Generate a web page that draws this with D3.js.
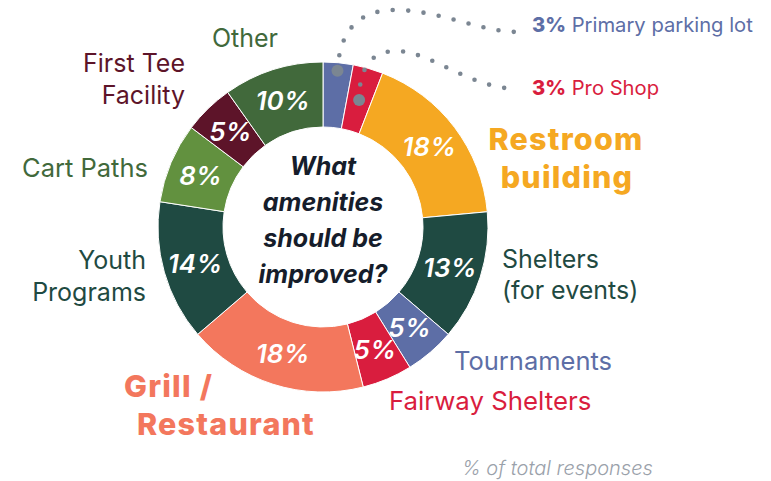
<!DOCTYPE html>
<html>
<head>
<meta charset="utf-8">
<script src="https://cdn.jsdelivr.net/npm/d3@7"></script>
<style>
  html, body { margin: 0; padding: 0; background: #ffffff; }
  svg { display: block; font-family: Inter, "Noto Sans", sans-serif; }
</style>
</head>
<body>
<svg id="chart" width="771" height="481"></svg>
<script>
// Survey answers, clockwise from 12 o'clock
const categories = [
  "Primary parking lot", "Pro Shop", "Restroom building", "Shelters (for events)",
  "Tournaments", "Fairway Shelters", "Grill / Restaurant", "Youth Programs",
  "Cart Paths", "First Tee Facility", "Other"
];
const shares = [3, 3, 18, 13, 5, 5, 18, 14, 8, 5, 10];
const question = ["What", "amenities", "should be", "improved?"];
const footnote = "% of total responses";

// Palette
const sliceColors = [
  "#5d6ea6", "#d91d3e", "#f5a822", "#1f4a42", "#5d6ea6", "#d91d3e",
  "#f3775d", "#1f4a42", "#62913f", "#5d1429", "#41693b"
];
const textColors = [
  "#5d6ea6", "#d91d3e", "#f5a822", "#1f4a42", "#5d6ea6", "#d91d3e",
  "#f3775d", "#1f4a42", "#41693b", "#5d1429", "#41693b"
];

const cx = 323, cy = 227;
const rInner = 100, rOuter = 165, rValue = 133;

const svg = d3.select("#chart");
const g = svg.append("g").attr("transform", `translate(${cx},${cy})`);

const pie = d3.pie().sort(null).value(d => d.value);
const data = categories.map((name, i) => ({ name, value: shares[i], i }));
const arcs = pie(data);

const arc = d3.arc().innerRadius(rInner).outerRadius(rOuter);
const valueArc = d3.arc().innerRadius(rValue).outerRadius(rValue);

// Donut slices
g.selectAll("path.slice")
  .data(arcs)
  .join("path")
  .attr("class", "slice")
  .attr("d", arc)
  .attr("fill", d => sliceColors[d.data.i])
  .attr("stroke", "#ffffff")
  .attr("stroke-width", 1);

// Percentages inside the ring (the two thin slices are called out instead)
const calloutIdx = new Set([0, 1]);
g.selectAll("text.value")
  .data(arcs.filter(d => !calloutIdx.has(d.data.i)))
  .join("text")
  .attr("class", "value")
  .attr("transform", d => `translate(${valueArc.centroid(d)})`)
  .attr("text-anchor", "middle")
  .attr("dy", "0.36em")
  .attr("fill", "#ffffff")
  .attr("font-size", 26)
  .attr("font-weight", 600)
  .attr("font-style", "italic")
  .text(d => d.data.value + "%");

// Question in the hole
g.append("text")
  .attr("text-anchor", "middle")
  .attr("fill", "#161d2b")
  .attr("font-size", 25)
  .attr("font-weight", 700)
  .attr("font-style", "italic")
  .selectAll("tspan")
  .data(question)
  .join("tspan")
  .attr("x", 0)
  .attr("y", (d, i) => -52 + i * 36)
  .text(d => d);

// Category labels around the ring
const labelLayout = [
  null, null,
  { lines: ["Restroom", "building"], x: [566, 567], y: 150, lh: 38, anchor: "middle", size: 30.5, bold: true },
  { lines: ["Shelters", "(for events)"], x: [502, 502], y: 268, lh: 31, anchor: "start", size: 25 },
  { lines: ["Tournaments"], x: [454], y: 370, lh: 0, anchor: "start", size: 25.5 },
  { lines: ["Fairway Shelters"], x: [389], y: 410, lh: 0, anchor: "start", size: 25.8 },
  { lines: ["Grill /", "Restaurant"], x: [124, 137], y: 397, lh: 38, anchor: "start", size: 30.5, bold: true },
  { lines: ["Youth", "Programs"], x: [146, 146], y: 269, lh: 32, anchor: "end", size: 25 },
  { lines: ["Cart Paths"], x: [148], y: 177, lh: 0, anchor: "end", size: 25.5 },
  { lines: ["First Tee", "Facility"], x: [185, 185], y: 72, lh: 32, anchor: "end", size: 25 },
  { lines: ["Other"], x: [245], y: 47, lh: 0, anchor: "middle", size: 25 }
];

labelLayout.forEach((L, i) => {
  if (!L) return;
  svg.append("text")
    .attr("text-anchor", L.anchor)
    .attr("fill", textColors[i])
    .attr("font-size", L.size)
    .attr("font-weight", L.bold ? 800 : 400)
    .attr("letter-spacing", L.bold ? 1.2 : 0)
    .selectAll("tspan")
    .data(L.lines)
    .join("tspan")
    .attr("x", (d, k) => L.x[k])
    .attr("y", (d, k) => L.y + k * L.lh)
    .text(d => d);
});

// Callouts for the two thin slices at the top, joined by dotted leaders
const polar = (angle, r) => [cx + r * Math.sin(angle), cy - r * Math.cos(angle)];
const callouts = [
  { i: 0, r: 157, tx: 532, ty: 32, endY: 32, apex: [395, 10], c1: [2, 36], c2: [40, 0], c3: [45, 0], c4: [39, 0] },
  { i: 1, r: 132, tx: 532, ty: 95, endY: 89, apex: [396, 51], c1: [0, 32], c2: [25, 0], c3: [35, 0], c4: [49, 0] }
];

callouts.forEach(c => {
  const a = arcs.find(d => d.data.i === c.i);
  const mid = (a.startAngle + a.endAngle) / 2;
  const [x0, y0] = polar(mid, c.r);
  const [ax, ay] = c.apex;
  const x1 = c.tx - 13, y1 = c.endY;
  const p = d3.path();
  p.moveTo(x0, y0);
  p.bezierCurveTo(x0 + c.c1[0], y0 - c.c1[1], ax - c.c2[0], ay, ax, ay);
  p.bezierCurveTo(ax + c.c3[0], ay, x1 - c.c4[0], y1, x1, y1);

  svg.append("path")
    .attr("d", p.toString())
    .attr("fill", "none")
    .attr("stroke", "#7b8692")
    .attr("stroke-width", 4.6)
    .attr("stroke-linecap", "round")
    .attr("stroke-dasharray", "0 15.4");

  svg.append("circle")
    .attr("cx", x0).attr("cy", y0).attr("r", 6)
    .attr("fill", "#7b8692");

  const t = svg.append("text")
    .attr("x", c.tx).attr("y", c.ty)
    .attr("fill", sliceColors[c.i])
    .attr("font-size", 20.2);
  t.append("tspan").attr("font-weight", 800).text(shares[c.i] + "%");
  t.append("tspan").attr("font-weight", 400).text(" " + categories[c.i]);
});

// Footnote
svg.append("text")
  .attr("x", 462).attr("y", 475)
  .attr("fill", "#9aa1aa")
  .attr("font-size", 20)
  .attr("font-weight", 300)
  .attr("font-style", "italic")
  .text(footnote);
</script>
</body>
</html>
